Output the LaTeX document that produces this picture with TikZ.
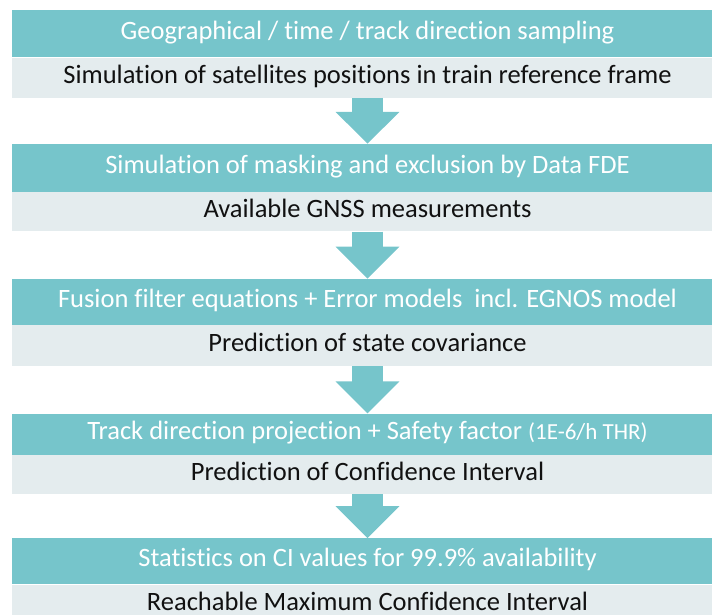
\documentclass[tikz,border=0pt]{standalone}
\usepackage{fontspec}
\setmainfont{Carlito}[Ligatures=NoCommon]
\usetikzlibrary{positioning, arrows.meta}
\definecolor{headteal}{HTML}{76C5CB}
\definecolor{bodygrey}{HTML}{E4ECEE}
\definecolor{bodytext}{HTML}{111111}

\begin{document}
\begin{tikzpicture}[x=1pt, y=1pt,
				Head/.style={
				fill=headteal,
				text=white,
				font=\fontsize{26.5}{30}\selectfont,
				minimum width=711pt,
				text height=17pt,
				text depth=6pt,
				inner sep=0pt},
				Body/.style={
				fill=bodygrey,
				text=bodytext,
				font=\fontsize{26.5}{30}\selectfont,
				minimum width=711pt,
				text height=17pt,
				text depth=6pt,
				inner sep=0pt},
				Flow/.style={
				draw=headteal,
				line width=31pt,
				-{Triangle[width=62pt, length=32pt]}}]
				\clip (0,0) rectangle (712,-614);
				% stages
				\node[Head, minimum height=47pt, anchor=north] (h1) at (367.5,-10) {Geographical / time / track direction sampling};
				\node[Body, minimum height=40pt, below=0pt of h1] (b1) {Simulation of satellites positions in train reference frame};
				\node[Head, minimum height=48pt, below=46pt of b1] (h2) {Simulation of masking and exclusion by Data FDE};
				\node[Body, minimum height=39pt, below=0pt of h2] (b2) {Available GNSS measurements};
				\node[Head, minimum height=46pt, below=47pt of b2] (h3) {Fusion filter equations + Error models\ \ incl. EGNOS model};
				\node[Body, minimum height=41pt, below=0pt of h3] (b3) {Prediction of state covariance};
				\node[Head, minimum height=41pt, below=47pt of b3] (h4) {Track direction projection + Safety factor {\fontsize{23}{27}\selectfont(1E-6/h THR)}};
				\node[Body, minimum height=39pt, below=0pt of h4] (b4) {Prediction of Confidence Interval};
				\node[Head, minimum height=46pt, below=44pt of b4] (h5) {Statistics on CI values for 99.9\% availability};
				\node[Body, minimum height=33pt, text height=24pt, below=0pt of h5] (b5) {Reachable Maximum Confidence Interval};
				% arrows between stages
				\draw[Flow] (b1.south) -- (h2.north);
				\draw[Flow] (b2.south) -- (h3.north);
				\draw[Flow] (b3.south) -- (h4.north);
				\draw[Flow] (b4.south) -- (h5.north);
			\end{tikzpicture}
\end{document}
